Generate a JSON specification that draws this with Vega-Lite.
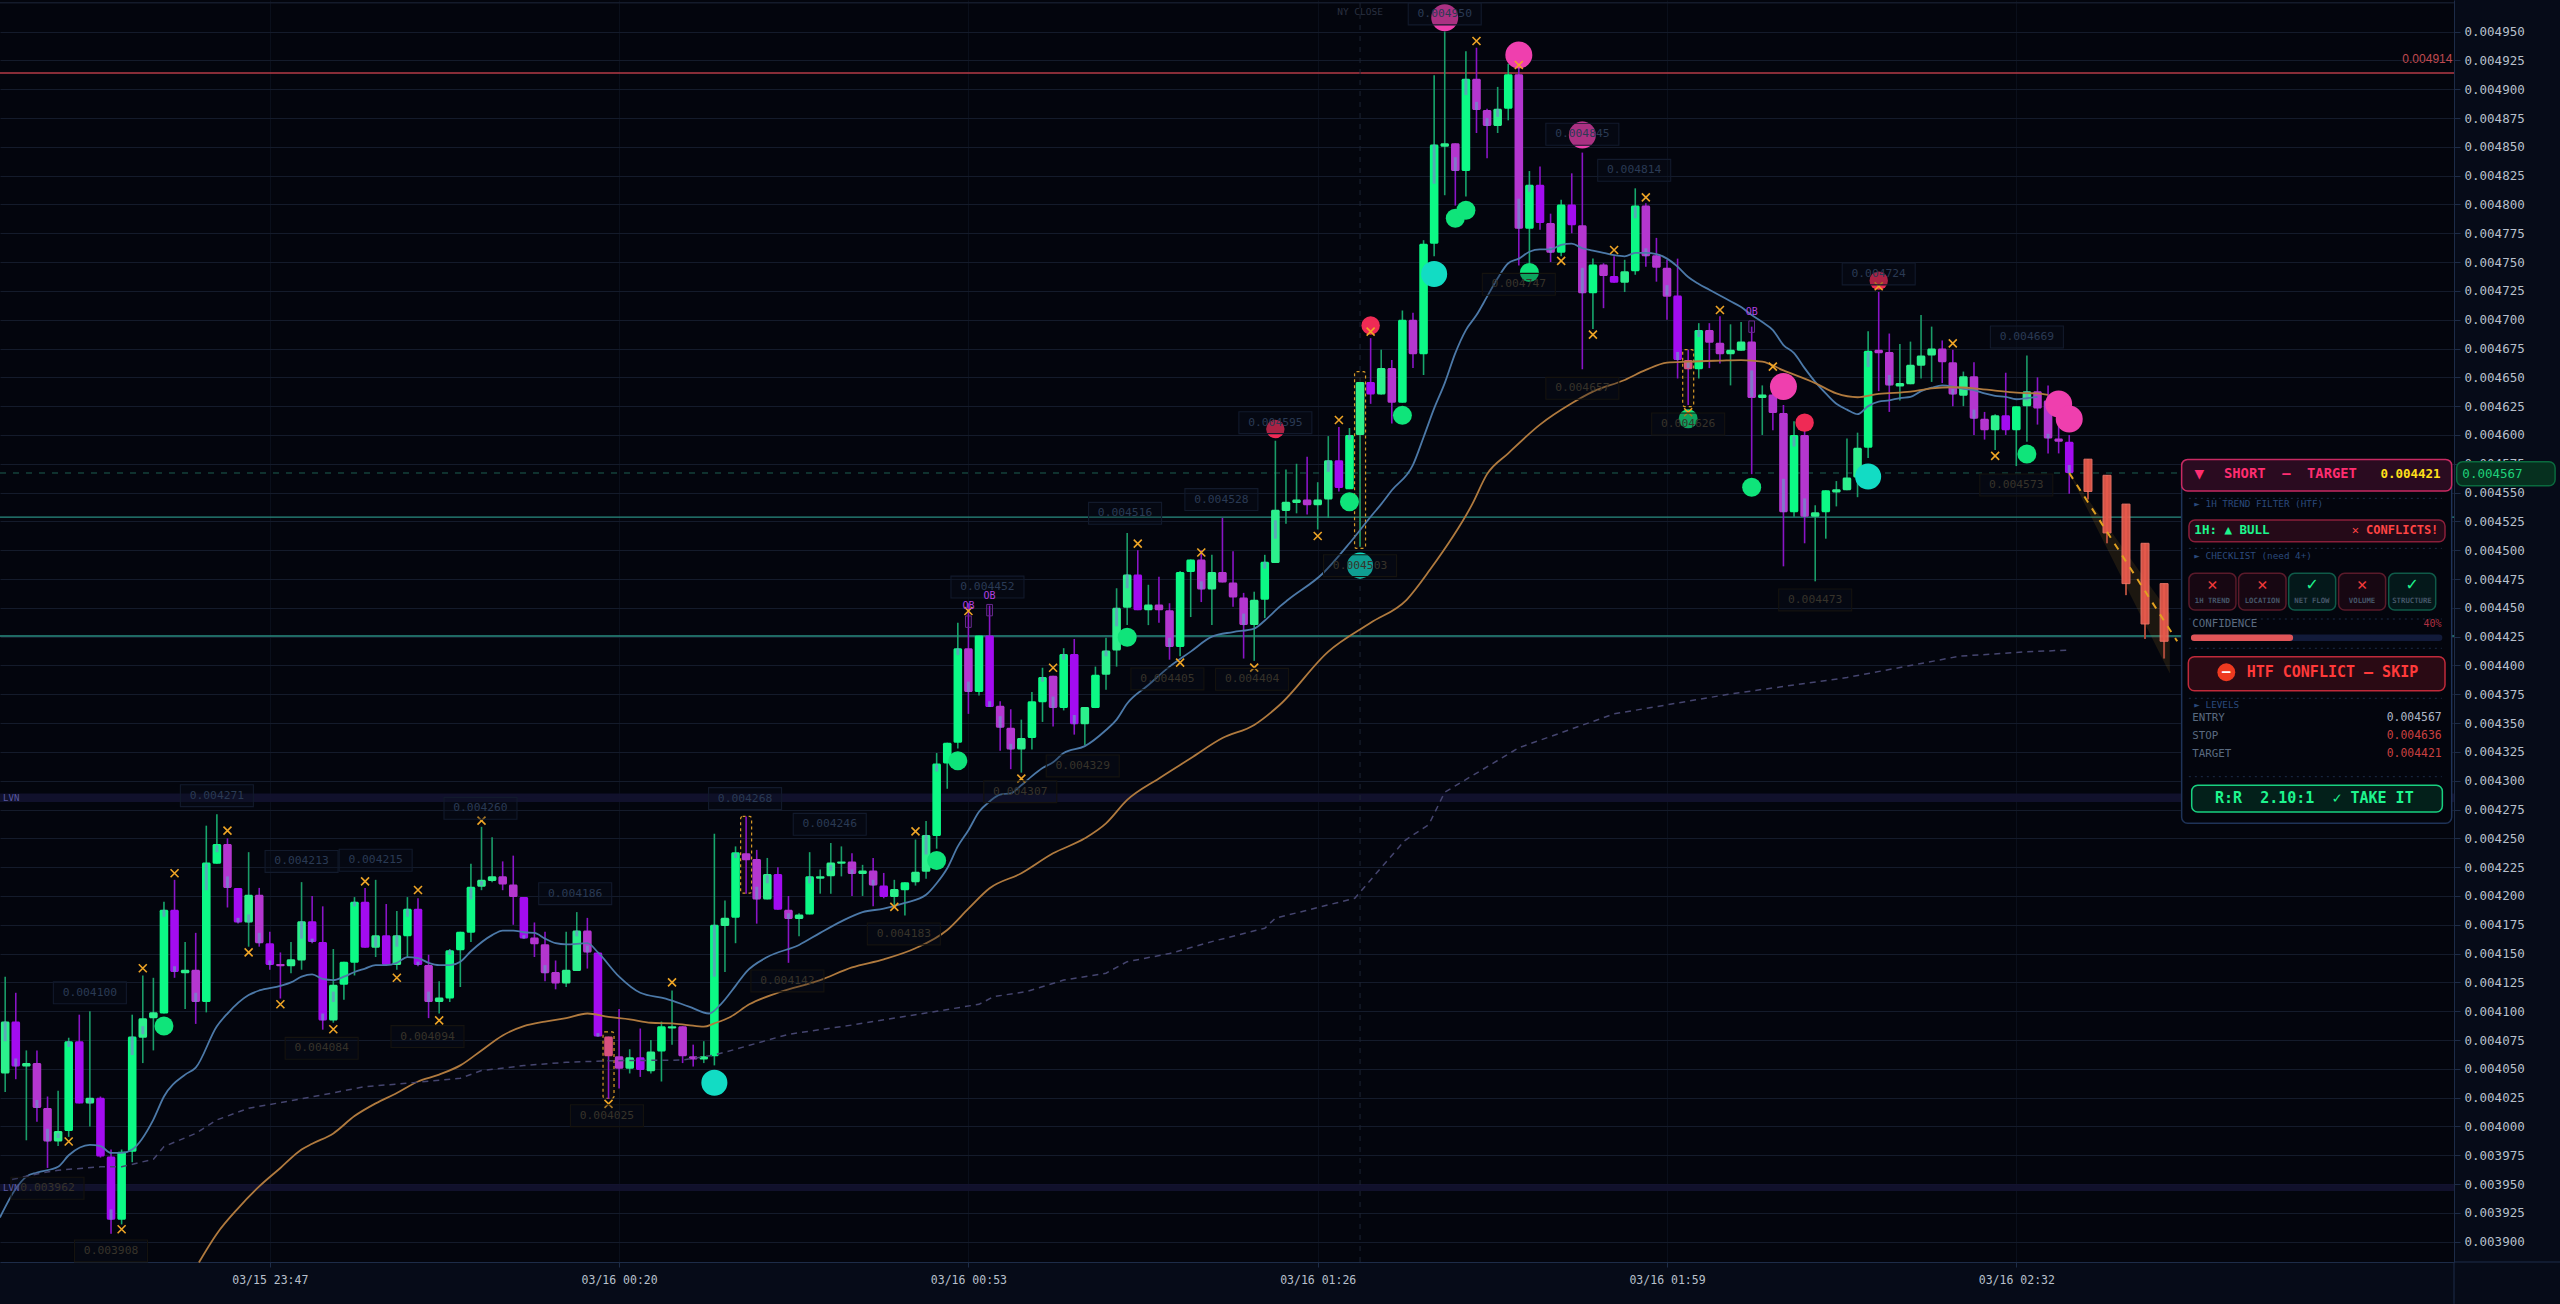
{
"$schema":"https://vega.github.io/schema/vega-lite/v6.json",
"autosize":{"type":"none"},
"width":2454,"height":1262,
"padding":{"left":0,"top":0,"right":106,"bottom":42},
"background":"#060b18",
"view":{"fill":"#03050d","stroke":null},
"config":{"font":"DejaVu Sans Mono"},
"datasets":{
"candles":[
{"b":0,"o":0.004046,"h":0.00413,"l":0.00403,"c":0.004091,"k":"L"},
{"b":1,"o":0.004091,"h":0.004116,"l":0.004041,"c":0.004052,"k":"P"},
{"b":2,"o":0.004052,"h":0.004066,"l":0.003988,"c":0.004055,"k":"L"},
{"b":3,"o":0.004055,"h":0.004066,"l":0.004004,"c":0.004016,"k":"M"},
{"b":4,"o":0.004016,"h":0.004026,"l":0.003964,"c":0.003987,"k":"M"},
{"b":5,"o":0.003987,"h":0.004031,"l":0.003983,"c":0.003996,"k":"L"},
{"b":6,"o":0.003996,"h":0.004077,"l":0.003991,"c":0.004074,"k":"G"},
{"b":7,"o":0.004074,"h":0.004097,"l":0.00402,"c":0.00402,"k":"P"},
{"b":8,"o":0.00402,"h":0.0041,"l":0.004,"c":0.004025,"k":"L"},
{"b":9,"o":0.004025,"h":0.004026,"l":0.003973,"c":0.003974,"k":"P"},
{"b":10,"o":0.003974,"h":0.00398,"l":0.003907,"c":0.003919,"k":"P"},
{"b":11,"o":0.003919,"h":0.00398,"l":0.003915,"c":0.003978,"k":"G"},
{"b":12,"o":0.003978,"h":0.004097,"l":0.003969,"c":0.004078,"k":"G"},
{"b":13,"o":0.004077,"h":0.004131,"l":0.004055,"c":0.004094,"k":"L"},
{"b":14,"o":0.004094,"h":0.004129,"l":0.004066,"c":0.004099,"k":"L"},
{"b":15,"o":0.004098,"h":0.004195,"l":0.004098,"c":0.004188,"k":"G"},
{"b":16,"o":0.004188,"h":0.004214,"l":0.004129,"c":0.004134,"k":"P"},
{"b":17,"o":0.004133,"h":0.00416,"l":0.004102,"c":0.004136,"k":"L"},
{"b":18,"o":0.004136,"h":0.004168,"l":0.004089,"c":0.004108,"k":"M"},
{"b":19,"o":0.004108,"h":0.004261,"l":0.004099,"c":0.004229,"k":"G"},
{"b":20,"o":0.004228,"h":0.004271,"l":0.004228,"c":0.004245,"k":"G"},
{"b":21,"o":0.004245,"h":0.00425,"l":0.00419,"c":0.004207,"k":"M"},
{"b":22,"o":0.004207,"h":0.004207,"l":0.004176,"c":0.004177,"k":"P"},
{"b":23,"o":0.004177,"h":0.004238,"l":0.004156,"c":0.004201,"k":"L"},
{"b":24,"o":0.004201,"h":0.004207,"l":0.004156,"c":0.004159,"k":"M"},
{"b":25,"o":0.004159,"h":0.004169,"l":0.004136,"c":0.00414,"k":"P"},
{"b":26,"o":0.004141,"h":0.004151,"l":0.004111,"c":0.004139,"k":"M"},
{"b":27,"o":0.004139,"h":0.00416,"l":0.004133,"c":0.004145,"k":"L"},
{"b":28,"o":0.004144,"h":0.004212,"l":0.004136,"c":0.004178,"k":"L"},
{"b":29,"o":0.004178,"h":0.0042,"l":0.004159,"c":0.00416,"k":"P"},
{"b":30,"o":0.00416,"h":0.004191,"l":0.004084,"c":0.004092,"k":"P"},
{"b":31,"o":0.004092,"h":0.004154,"l":0.00409,"c":0.004123,"k":"L"},
{"b":32,"o":0.004123,"h":0.004143,"l":0.00411,"c":0.004143,"k":"G"},
{"b":33,"o":0.004142,"h":0.004199,"l":0.004131,"c":0.004195,"k":"G"},
{"b":34,"o":0.004195,"h":0.004207,"l":0.004155,"c":0.004155,"k":"P"},
{"b":35,"o":0.004155,"h":0.004214,"l":0.004147,"c":0.004166,"k":"L"},
{"b":36,"o":0.004166,"h":0.004193,"l":0.00414,"c":0.00414,"k":"P"},
{"b":37,"o":0.00414,"h":0.004187,"l":0.004136,"c":0.004166,"k":"L"},
{"b":38,"o":0.004165,"h":0.004199,"l":0.004147,"c":0.004189,"k":"G"},
{"b":39,"o":0.004189,"h":0.004198,"l":0.004139,"c":0.00414,"k":"P"},
{"b":40,"o":0.00414,"h":0.004149,"l":0.004094,"c":0.004108,"k":"M"},
{"b":41,"o":0.004108,"h":0.004126,"l":0.004098,"c":0.004112,"k":"L"},
{"b":42,"o":0.004111,"h":0.004154,"l":0.004108,"c":0.004153,"k":"G"},
{"b":43,"o":0.004153,"h":0.004169,"l":0.004121,"c":0.004169,"k":"G"},
{"b":44,"o":0.004168,"h":0.004228,"l":0.00416,"c":0.004208,"k":"G"},
{"b":45,"o":0.004208,"h":0.00426,"l":0.004205,"c":0.004214,"k":"L"},
{"b":46,"o":0.004213,"h":0.004251,"l":0.004212,"c":0.004217,"k":"L"},
{"b":47,"o":0.004217,"h":0.00423,"l":0.004205,"c":0.00421,"k":"M"},
{"b":48,"o":0.00421,"h":0.004235,"l":0.004175,"c":0.004199,"k":"M"},
{"b":49,"o":0.004199,"h":0.004199,"l":0.004163,"c":0.004163,"k":"P"},
{"b":50,"o":0.004164,"h":0.004177,"l":0.004147,"c":0.004158,"k":"M"},
{"b":51,"o":0.004158,"h":0.004169,"l":0.004126,"c":0.004133,"k":"M"},
{"b":52,"o":0.004134,"h":0.004144,"l":0.004119,"c":0.004124,"k":"M"},
{"b":53,"o":0.004124,"h":0.004169,"l":0.004121,"c":0.004136,"k":"L"},
{"b":54,"o":0.004135,"h":0.004186,"l":0.004135,"c":0.00417,"k":"L"},
{"b":55,"o":0.00417,"h":0.004181,"l":0.004137,"c":0.004151,"k":"M"},
{"b":56,"o":0.004151,"h":0.004151,"l":0.004078,"c":0.004078,"k":"P"},
{"b":57,"o":0.004078,"h":0.004078,"l":0.004024,"c":0.004061,"k":"H"},
{"b":58,"o":0.004061,"h":0.004102,"l":0.004033,"c":0.00405,"k":"M"},
{"b":59,"o":0.00405,"h":0.004067,"l":0.004046,"c":0.00406,"k":"L"},
{"b":60,"o":0.00406,"h":0.004085,"l":0.004043,"c":0.004049,"k":"P"},
{"b":61,"o":0.004048,"h":0.004075,"l":0.004046,"c":0.004065,"k":"L"},
{"b":62,"o":0.004065,"h":0.004091,"l":0.004039,"c":0.004087,"k":"G"},
{"b":63,"o":0.004085,"h":0.004118,"l":0.004071,"c":0.004087,"k":"L"},
{"b":64,"o":0.004087,"h":0.004087,"l":0.004055,"c":0.004061,"k":"M"},
{"b":65,"o":0.004061,"h":0.004071,"l":0.004052,"c":0.004058,"k":"M"},
{"b":66,"o":0.004058,"h":0.004074,"l":0.004055,"c":0.004061,"k":"L"},
{"b":67,"o":0.004061,"h":0.004254,"l":0.004053,"c":0.004175,"k":"G"},
{"b":68,"o":0.004174,"h":0.004196,"l":0.004134,"c":0.004181,"k":"L"},
{"b":69,"o":0.004181,"h":0.004243,"l":0.004159,"c":0.004238,"k":"G"},
{"b":70,"o":0.004237,"h":0.004269,"l":0.004202,"c":0.004231,"k":"M"},
{"b":71,"o":0.004232,"h":0.00424,"l":0.004176,"c":0.004197,"k":"M"},
{"b":72,"o":0.004197,"h":0.004233,"l":0.004197,"c":0.004219,"k":"L"},
{"b":73,"o":0.004219,"h":0.004225,"l":0.004188,"c":0.004188,"k":"P"},
{"b":74,"o":0.004188,"h":0.0042,"l":0.004142,"c":0.00418,"k":"M"},
{"b":75,"o":0.00418,"h":0.004185,"l":0.004165,"c":0.004184,"k":"L"},
{"b":76,"o":0.004184,"h":0.004238,"l":0.004184,"c":0.004217,"k":"G"},
{"b":77,"o":0.004215,"h":0.004223,"l":0.004202,"c":0.004217,"k":"L"},
{"b":78,"o":0.004217,"h":0.004246,"l":0.004202,"c":0.004229,"k":"L"},
{"b":79,"o":0.004228,"h":0.004243,"l":0.004217,"c":0.00423,"k":"L"},
{"b":80,"o":0.00423,"h":0.004237,"l":0.0042,"c":0.004219,"k":"M"},
{"b":81,"o":0.004219,"h":0.004227,"l":0.0042,"c":0.004222,"k":"L"},
{"b":82,"o":0.004222,"h":0.004233,"l":0.004191,"c":0.004209,"k":"M"},
{"b":83,"o":0.004209,"h":0.00422,"l":0.004198,"c":0.004199,"k":"P"},
{"b":84,"o":0.004199,"h":0.004214,"l":0.004192,"c":0.004206,"k":"L"},
{"b":85,"o":0.004205,"h":0.004212,"l":0.004183,"c":0.004212,"k":"G"},
{"b":86,"o":0.004212,"h":0.004249,"l":0.004209,"c":0.004221,"k":"L"},
{"b":87,"o":0.004221,"h":0.004265,"l":0.004215,"c":0.004253,"k":"L"},
{"b":88,"o":0.004252,"h":0.004324,"l":0.004241,"c":0.004315,"k":"G"},
{"b":89,"o":0.004315,"h":0.004333,"l":0.004293,"c":0.004333,"k":"G"},
{"b":90,"o":0.004333,"h":0.004437,"l":0.004328,"c":0.004415,"k":"G"},
{"b":91,"o":0.004415,"h":0.004454,"l":0.004358,"c":0.004377,"k":"M"},
{"b":92,"o":0.004377,"h":0.004426,"l":0.004374,"c":0.004426,"k":"G"},
{"b":93,"o":0.004426,"h":0.004452,"l":0.004364,"c":0.004364,"k":"P"},
{"b":94,"o":0.004365,"h":0.004369,"l":0.004326,"c":0.004346,"k":"M"},
{"b":95,"o":0.004346,"h":0.004362,"l":0.00431,"c":0.004327,"k":"M"},
{"b":96,"o":0.004327,"h":0.004353,"l":0.004307,"c":0.004337,"k":"L"},
{"b":97,"o":0.004337,"h":0.004377,"l":0.004327,"c":0.004369,"k":"G"},
{"b":98,"o":0.004368,"h":0.004398,"l":0.004351,"c":0.00439,"k":"G"},
{"b":99,"o":0.004391,"h":0.004391,"l":0.004347,"c":0.004363,"k":"M"},
{"b":100,"o":0.004363,"h":0.004415,"l":0.004361,"c":0.00441,"k":"G"},
{"b":101,"o":0.00441,"h":0.004423,"l":0.00434,"c":0.004349,"k":"P"},
{"b":102,"o":0.004349,"h":0.004364,"l":0.004331,"c":0.004364,"k":"L"},
{"b":103,"o":0.004363,"h":0.004399,"l":0.004363,"c":0.004392,"k":"G"},
{"b":104,"o":0.004392,"h":0.004424,"l":0.004379,"c":0.004413,"k":"L"},
{"b":105,"o":0.004413,"h":0.004467,"l":0.004399,"c":0.00445,"k":"L"},
{"b":106,"o":0.00445,"h":0.004515,"l":0.004435,"c":0.004479,"k":"L"},
{"b":107,"o":0.004479,"h":0.0045,"l":0.004448,"c":0.004448,"k":"P"},
{"b":108,"o":0.004448,"h":0.00447,"l":0.004435,"c":0.004453,"k":"L"},
{"b":109,"o":0.004453,"h":0.004477,"l":0.004437,"c":0.004448,"k":"M"},
{"b":110,"o":0.004448,"h":0.004454,"l":0.004405,"c":0.004416,"k":"M"},
{"b":111,"o":0.004416,"h":0.004482,"l":0.004408,"c":0.004481,"k":"G"},
{"b":112,"o":0.004481,"h":0.004492,"l":0.004442,"c":0.004492,"k":"G"},
{"b":113,"o":0.004492,"h":0.0045,"l":0.004455,"c":0.004466,"k":"M"},
{"b":114,"o":0.004466,"h":0.004496,"l":0.004435,"c":0.004481,"k":"L"},
{"b":115,"o":0.004481,"h":0.004528,"l":0.004472,"c":0.004472,"k":"M"},
{"b":116,"o":0.004472,"h":0.004499,"l":0.004451,"c":0.004459,"k":"M"},
{"b":117,"o":0.004459,"h":0.004463,"l":0.004406,"c":0.004435,"k":"M"},
{"b":118,"o":0.004435,"h":0.004464,"l":0.004404,"c":0.004457,"k":"L"},
{"b":119,"o":0.004457,"h":0.004496,"l":0.004441,"c":0.00449,"k":"G"},
{"b":120,"o":0.004489,"h":0.004595,"l":0.004489,"c":0.004535,"k":"L"},
{"b":121,"o":0.004534,"h":0.00457,"l":0.004523,"c":0.004542,"k":"L"},
{"b":122,"o":0.004541,"h":0.004575,"l":0.004532,"c":0.004544,"k":"L"},
{"b":123,"o":0.004544,"h":0.004581,"l":0.004531,"c":0.004539,"k":"M"},
{"b":124,"o":0.004539,"h":0.004559,"l":0.004518,"c":0.004544,"k":"L"},
{"b":125,"o":0.004544,"h":0.004599,"l":0.004528,"c":0.004578,"k":"L"},
{"b":126,"o":0.004578,"h":0.004607,"l":0.004551,"c":0.004554,"k":"P"},
{"b":127,"o":0.004553,"h":0.004606,"l":0.004553,"c":0.0046,"k":"G"},
{"b":128,"o":0.0046,"h":0.004646,"l":0.004503,"c":0.004646,"k":"L"},
{"b":129,"o":0.004646,"h":0.004684,"l":0.004627,"c":0.004635,"k":"P"},
{"b":130,"o":0.004635,"h":0.004674,"l":0.004635,"c":0.004658,"k":"L"},
{"b":131,"o":0.004658,"h":0.004665,"l":0.00461,"c":0.004628,"k":"M"},
{"b":132,"o":0.004628,"h":0.004708,"l":0.004628,"c":0.0047,"k":"G"},
{"b":133,"o":0.0047,"h":0.004706,"l":0.004658,"c":0.00467,"k":"M"},
{"b":134,"o":0.00467,"h":0.004769,"l":0.004652,"c":0.004766,"k":"G"},
{"b":135,"o":0.004766,"h":0.004912,"l":0.004755,"c":0.004852,"k":"G"},
{"b":136,"o":0.00485,"h":0.00495,"l":0.004808,"c":0.004853,"k":"L"},
{"b":137,"o":0.004853,"h":0.004853,"l":0.004799,"c":0.004829,"k":"M"},
{"b":138,"o":0.004829,"h":0.004933,"l":0.004807,"c":0.004909,"k":"G"},
{"b":139,"o":0.004909,"h":0.004936,"l":0.004862,"c":0.004882,"k":"M"},
{"b":140,"o":0.004882,"h":0.004883,"l":0.00484,"c":0.004868,"k":"M"},
{"b":141,"o":0.004868,"h":0.004902,"l":0.004862,"c":0.004883,"k":"L"},
{"b":142,"o":0.004883,"h":0.004922,"l":0.004873,"c":0.004913,"k":"G"},
{"b":143,"o":0.004913,"h":0.004921,"l":0.004747,"c":0.004779,"k":"M"},
{"b":144,"o":0.004779,"h":0.004829,"l":0.004749,"c":0.004817,"k":"G"},
{"b":145,"o":0.004817,"h":0.004833,"l":0.004778,"c":0.004784,"k":"P"},
{"b":146,"o":0.004784,"h":0.004792,"l":0.00475,"c":0.004758,"k":"M"},
{"b":147,"o":0.004758,"h":0.004804,"l":0.004755,"c":0.0048,"k":"G"},
{"b":148,"o":0.0048,"h":0.004827,"l":0.004775,"c":0.004782,"k":"P"},
{"b":149,"o":0.004782,"h":0.004845,"l":0.004657,"c":0.004723,"k":"M"},
{"b":150,"o":0.004723,"h":0.004753,"l":0.004692,"c":0.004748,"k":"G"},
{"b":151,"o":0.004748,"h":0.004749,"l":0.00471,"c":0.004738,"k":"M"},
{"b":152,"o":0.004738,"h":0.004755,"l":0.004732,"c":0.004732,"k":"P"},
{"b":153,"o":0.004732,"h":0.004752,"l":0.004724,"c":0.004742,"k":"L"},
{"b":154,"o":0.004742,"h":0.004814,"l":0.004739,"c":0.004799,"k":"G"},
{"b":155,"o":0.004799,"h":0.004801,"l":0.004746,"c":0.004755,"k":"M"},
{"b":156,"o":0.004756,"h":0.004771,"l":0.004733,"c":0.004745,"k":"M"},
{"b":157,"o":0.004745,"h":0.004752,"l":0.0047,"c":0.00472,"k":"M"},
{"b":158,"o":0.004721,"h":0.004753,"l":0.004649,"c":0.004665,"k":"P"},
{"b":159,"o":0.004665,"h":0.004674,"l":0.004626,"c":0.004657,"k":"H"},
{"b":160,"o":0.004657,"h":0.004697,"l":0.004649,"c":0.004691,"k":"G"},
{"b":161,"o":0.004691,"h":0.004697,"l":0.004658,"c":0.00468,"k":"M"},
{"b":162,"o":0.00468,"h":0.004703,"l":0.004662,"c":0.00467,"k":"M"},
{"b":163,"o":0.00467,"h":0.004696,"l":0.004643,"c":0.004674,"k":"L"},
{"b":164,"o":0.004673,"h":0.004698,"l":0.004673,"c":0.004681,"k":"L"},
{"b":165,"o":0.004681,"h":0.004694,"l":0.004566,"c":0.004632,"k":"M"},
{"b":166,"o":0.004632,"h":0.004643,"l":0.0046,"c":0.004635,"k":"L"},
{"b":167,"o":0.004635,"h":0.004648,"l":0.004604,"c":0.004619,"k":"M"},
{"b":168,"o":0.004619,"h":0.004626,"l":0.004486,"c":0.004533,"k":"M"},
{"b":169,"o":0.004533,"h":0.004612,"l":0.004529,"c":0.0046,"k":"G"},
{"b":170,"o":0.0046,"h":0.004604,"l":0.004506,"c":0.004529,"k":"M"},
{"b":171,"o":0.004529,"h":0.004539,"l":0.004473,"c":0.004533,"k":"L"},
{"b":172,"o":0.004533,"h":0.004552,"l":0.00451,"c":0.004552,"k":"G"},
{"b":173,"o":0.00455,"h":0.00456,"l":0.004538,"c":0.004553,"k":"L"},
{"b":174,"o":0.004552,"h":0.004597,"l":0.004552,"c":0.004563,"k":"L"},
{"b":175,"o":0.004563,"h":0.004602,"l":0.004546,"c":0.004589,"k":"L"},
{"b":176,"o":0.004589,"h":0.00469,"l":0.00458,"c":0.004673,"k":"G"},
{"b":177,"o":0.004674,"h":0.004724,"l":0.004638,"c":0.004671,"k":"M"},
{"b":178,"o":0.004672,"h":0.004688,"l":0.00462,"c":0.004643,"k":"M"},
{"b":179,"o":0.004642,"h":0.004679,"l":0.00463,"c":0.004645,"k":"L"},
{"b":180,"o":0.004644,"h":0.004681,"l":0.004644,"c":0.004661,"k":"L"},
{"b":181,"o":0.00466,"h":0.004704,"l":0.004649,"c":0.004669,"k":"L"},
{"b":182,"o":0.004669,"h":0.004694,"l":0.004646,"c":0.004675,"k":"L"},
{"b":183,"o":0.004675,"h":0.004682,"l":0.004645,"c":0.004663,"k":"M"},
{"b":184,"o":0.004663,"h":0.004674,"l":0.004625,"c":0.004635,"k":"M"},
{"b":185,"o":0.004634,"h":0.004655,"l":0.004625,"c":0.004651,"k":"L"},
{"b":186,"o":0.004651,"h":0.004663,"l":0.0046,"c":0.004614,"k":"M"},
{"b":187,"o":0.004614,"h":0.00462,"l":0.004596,"c":0.004604,"k":"M"},
{"b":188,"o":0.004604,"h":0.004618,"l":0.004587,"c":0.004617,"k":"L"},
{"b":189,"o":0.004617,"h":0.004654,"l":0.0046,"c":0.004604,"k":"P"},
{"b":190,"o":0.004604,"h":0.004625,"l":0.004573,"c":0.004625,"k":"G"},
{"b":191,"o":0.004625,"h":0.004669,"l":0.004594,"c":0.004638,"k":"L"},
{"b":192,"o":0.004638,"h":0.00465,"l":0.004609,"c":0.004623,"k":"M"},
{"b":193,"o":0.00463,"h":0.004643,"l":0.004584,"c":0.004597,"k":"M"},
{"b":194,"o":0.004597,"h":0.00461,"l":0.004584,"c":0.004594,"k":"M"},
{"b":195,"o":0.004594,"h":0.0046,"l":0.004549,"c":0.004567,"k":"P"}
],
"flow":[
{"b":0,"a":0.004091,"z":0.004074},{"b":1,"a":0.004059,"z":0.004052},{"b":3,"a":0.004023,"z":0.004016},{"b":4,"a":0.003998,"z":0.003987},{"b":5,"a":0.003994,"z":0.00399},{"b":6,"a":0.004074,"z":0.004069},{"b":8,"a":0.004024,"z":0.00402},{"b":10,"a":0.003928,"z":0.003919},{"b":12,"a":0.004078,"z":0.004062},{"b":13,"a":0.004087,"z":0.00408},{"b":15,"a":0.004188,"z":0.004182},{"b":16,"a":0.004139,"z":0.004134},{"b":18,"a":0.004116,"z":0.004108},{"b":19,"a":0.004228,"z":0.004205},{"b":20,"a":0.004244,"z":0.004238},{"b":21,"a":0.004217,"z":0.004207},{"b":22,"a":0.004181,"z":0.004177},{"b":23,"a":0.004184,"z":0.004177},{"b":24,"a":0.004168,"z":0.004159},{"b":25,"a":0.004144,"z":0.00414},{"b":28,"a":0.004178,"z":0.004163},{"b":29,"a":0.004163,"z":0.00416},{"b":30,"a":0.004098,"z":0.004092},{"b":31,"a":0.004117,"z":0.004108},{"b":33,"a":0.004195,"z":0.004191},{"b":35,"a":0.004165,"z":0.004156},{"b":37,"a":0.004166,"z":0.004156},{"b":38,"a":0.004189,"z":0.004182},{"b":39,"a":0.004143,"z":0.00414},{"b":40,"a":0.004117,"z":0.004108},{"b":42,"a":0.004153,"z":0.004149},{"b":44,"a":0.004207,"z":0.004197},{"b":45,"a":0.004213,"z":0.004209},{"b":49,"a":0.004166,"z":0.004163},{"b":51,"a":0.00414,"z":0.004133},{"b":54,"a":0.00417,"z":0.004165},{"b":55,"a":0.004157,"z":0.004151},{"b":56,"a":0.004081,"z":0.004078},
{"b":67,"a":0.004175,"z":0.00413},{"b":69,"a":0.004237,"z":0.004233},{"b":71,"a":0.004208,"z":0.004197},{"b":72,"a":0.004218,"z":0.004211},{"b":74,"a":0.004185,"z":0.00418},{"b":76,"a":0.004217,"z":0.004211},{"b":78,"a":0.004227,"z":0.004222},{"b":80,"a":0.004223,"z":0.004219},{"b":82,"a":0.004214,"z":0.004209},{"b":87,"a":0.004253,"z":0.004236},{"b":88,"a":0.004314,"z":0.004308},{"b":90,"a":0.004415,"z":0.004409},{"b":91,"a":0.004386,"z":0.004377},{"b":93,"a":0.004369,"z":0.004364},{"b":94,"a":0.004356,"z":0.004346},{"b":95,"a":0.004332,"z":0.004327},{"b":98,"a":0.00439,"z":0.004386},{"b":99,"a":0.004373,"z":0.004363},{"b":100,"a":0.00441,"z":0.004405},{"b":101,"a":0.004357,"z":0.004349},{"b":104,"a":0.004413,"z":0.004408},{"b":105,"a":0.00445,"z":0.004434},{"b":106,"a":0.004479,"z":0.004467},{"b":110,"a":0.004424,"z":0.004416},{"b":113,"a":0.004473,"z":0.004466},{"b":117,"a":0.004445,"z":0.004435},{"b":119,"a":0.00449,"z":0.004484},{"b":120,"a":0.004526,"z":0.00451},{"b":125,"a":0.004578,"z":0.004568},{"b":127,"a":0.0046,"z":0.004596},
{"b":135,"a":0.004852,"z":0.004818},{"b":137,"a":0.004841,"z":0.004829},{"b":138,"a":0.004909,"z":0.004895},{"b":139,"a":0.004889,"z":0.004882},{"b":140,"a":0.004875,"z":0.004868},{"b":141,"a":0.004883,"z":0.004876},{"b":143,"a":0.004805,"z":0.004779},{"b":144,"a":0.004817,"z":0.004811},{"b":146,"a":0.004763,"z":0.004758},{"b":149,"a":0.004745,"z":0.004723},{"b":154,"a":0.004798,"z":0.004788},{"b":155,"a":0.004762,"z":0.004755},{"b":157,"a":0.00473,"z":0.004721},{"b":158,"a":0.004672,"z":0.004665},{"b":159,"a":0.004664,"z":0.004658},{"b":160,"a":0.004691,"z":0.004685},{"b":165,"a":0.004656,"z":0.004633},{"b":168,"a":0.004562,"z":0.004533},{"b":169,"a":0.004599,"z":0.00459},{"b":170,"a":0.004545,"z":0.004529},{"b":176,"a":0.004672,"z":0.004659},{"b":178,"a":0.004652,"z":0.004643},{"b":184,"a":0.00464,"z":0.004635},{"b":186,"a":0.004622,"z":0.004614},{"b":191,"a":0.004638,"z":0.00463},{"b":193,"a":0.004601,"z":0.004597},{"b":195,"a":0.004574,"z":0.004567}
],
"ghost":[
{"b":196.77,"o":0.004579,"c":0.004551,"h":0.004579,"l":0.004544},
{"b":198.57,"o":0.004565,"c":0.004515,"h":0.004565,"l":0.004506},
{"b":200.36,"o":0.00454,"c":0.004471,"h":0.00454,"l":0.004461},
{"b":202.16,"o":0.004506,"c":0.004436,"h":0.004506,"l":0.004423},
{"b":203.96,"o":0.004471,"c":0.004421,"h":0.004471,"l":0.004406}
],
"pivots":[
{"b":8,"p":0.004116,"t":"0.004100","k":"hi"},{"b":28,"p":0.00423,"t":"0.004213","k":"hi"},{"b":35,"p":0.004231,"t":"0.004215","k":"hi"},{"b":44.9,"p":0.004276,"t":"0.004260","k":"hi"},{"b":53.85,"p":0.004202,"t":"0.004186","k":"hi"},{"b":20,"p":0.004287,"t":"0.004271","k":"hi"},{"b":4,"p":0.0039464,"t":"0.003962","k":"lo"},{"b":69.9,"p":0.0042845,"t":"0.004268","k":"hi"},{"b":77.9,"p":0.0042622,"t":"0.004246","k":"hi"},{"b":92.8,"p":0.004468,"t":"0.004452","k":"hi"},{"b":105.8,"p":0.004532,"t":"0.004516","k":"hi"},{"b":114.9,"p":0.0045439,"t":"0.004528","k":"hi"},{"b":120,"p":0.0046107,"t":"0.004595","k":"hi"},{"b":136,"p":0.0049653,"t":"0.004950","k":"hi"},{"b":149,"p":0.0048609,"t":"0.004845","k":"hi"},{"b":153.9,"p":0.0048296,"t":"0.004814","k":"hi"},{"b":177,"p":0.0047397,"t":"0.004724","k":"hi"},{"b":191,"p":0.004685,"t":"0.004669","k":"hi"},
{"b":10,"p":0.003892,"t":"0.003908","k":"lo"},{"b":29.9,"p":0.0040678,"t":"0.004084","k":"lo"},{"b":39.9,"p":0.004078,"t":"0.004094","k":"lo"},{"b":56.85,"p":0.0040094,"t":"0.004025","k":"lo"},{"b":73.9,"p":0.0041263,"t":"0.004142","k":"lo"},{"b":84.9,"p":0.0041671,"t":"0.004183","k":"lo"},{"b":95.9,"p":0.0042905,"t":"0.004307","k":"lo"},{"b":101.8,"p":0.0043128,"t":"0.004329","k":"lo"},{"b":109.8,"p":0.0043883,"t":"0.004405","k":"lo"},{"b":117.8,"p":0.004388,"t":"0.004404","k":"lo"},{"b":128,"p":0.0044866,"t":"0.004503","k":"lo"},{"b":143,"p":0.0047307,"t":"0.004747","k":"lo"},{"b":149,"p":0.0046405,"t":"0.004657","k":"lo"},{"b":159,"p":0.0046095,"t":"0.004626","k":"lo"},{"b":190,"p":0.0045566,"t":"0.004573","k":"lo"},{"b":171,"p":0.0044569,"t":"0.004473","k":"lo"}
]
},
"encoding":{
"x":{"field":"b","type":"quantitative","scale":{"domain":[-0.49,231.35],"nice":false,"zero":false,"padding":0},"title":null,
"axis":{"values":[25,58,91,124,157,190],"labelExpr":"{'25':'03/15 23:47','58':'03/16 00:20','91':'03/16 00:53','124':'03/16 01:26','157':'03/16 01:59','190':'03/16 02:32'}[datum.value]","labelColor":"#b8c0cc","labelFontSize":11.5,"labelFont":"DejaVu Sans Mono","labelPadding":7,"tickSize":5,"tickColor":"#1d2c48","domainColor":"#1d2c48","grid":true,"gridColor":"#0a0f1b","gridWidth":1,"labelOverlap":false}}
},
"layer":[
{"data":{"values":[{"b":-0.49,"b2":231.35,"p":0.003882}]},
 "mark":{"type":"rule","opacity":0},
 "encoding":{"x2":{"field":"b2"},
 "y":{"field":"p","type":"quantitative","title":null,"scale":{"domain":[0.0038824,0.0049774],"nice":false,"zero":false},
 "axis":{"orient":"right","format":".6f","values":[0.0039,0.003925,0.00395,0.003975,0.004,0.004025,0.00405,0.004075,0.0041,0.004125,0.00415,0.004175,0.0042,0.004225,0.00425,0.004275,0.0043,0.004325,0.00435,0.004375,0.0044,0.004425,0.00445,0.004475,0.0045,0.004525,0.00455,0.004575,0.0046,0.004625,0.00465,0.004675,0.0047,0.004725,0.00475,0.004775,0.0048,0.004825,0.00485,0.004875,0.0049,0.004925,0.00495],"labelColor":"#b8c0cc","labelFontSize":12.5,"labelFont":"DejaVu Sans Mono","labelPadding":4,"tickSize":6,"tickColor":"#1d2c48","domainColor":"#1d2c48","grid":true,"gridColor":"#141b2b","gridWidth":1.2,"labelOverlap":false,"labelFlush":false}}}},
{"data":{"values":[{"b":-0.49,"b2":231.35,"a":0.004289,"z":0.0042815},{"b":-0.49,"b2":231.35,"a":0.00395,"z":0.003944}]},
 "mark":{"type":"rect","fill":"#131330","opacity":0.9},
 "encoding":{"x2":{"field":"b2"},"y":{"field":"a","type":"quantitative","axis":null},"y2":{"field":"z"}}},
{"data":{"values":[{"b":-0.49,"b2":231.35,"p":0.0042853},{"b":-0.49,"b2":231.35,"p":0.003947},{"b":-0.49,"b2":231.35,"p":0.004567,"k":"e"}]},
 "mark":{"type":"rule","strokeDash":[6,7],"strokeWidth":1},
 "encoding":{"x2":{"field":"b2"},"y":{"field":"p","type":"quantitative","axis":null},
 "color":{"field":"k","type":"nominal","legend":null,"scale":{"domain":["e"],"range":["#1d5f50"],"unknown":"#33335f"}}}},
{"data":{"values":[{"b":-0.49,"b2":231.35,"p":0.004914,"k":"r"},{"b":-0.49,"b2":231.35,"p":0.0045287,"k":"t"},{"b":-0.49,"b2":231.35,"p":0.0044256,"k":"t"},{"b":-0.49,"b2":231.35,"p":0.004975,"k":"g"}]},
 "mark":{"type":"rule","strokeWidth":1.4},
 "encoding":{"x2":{"field":"b2"},"y":{"field":"p","type":"quantitative","axis":null},
 "color":{"field":"k","type":"nominal","legend":null,"scale":{"domain":["r","t","g"],"range":["#b53a46","#2a8c80","#141b2b"]}}}},
{"data":{"values":[{"b":128,"a":0.0038824,"z":0.0049774}]},
 "mark":{"type":"rule","strokeDash":[5,6],"stroke":"#1c2434","strokeWidth":1},
 "encoding":{"y":{"field":"a","type":"quantitative","axis":null},"y2":{"field":"z"}}},
{"data":{"values":[{"b":231.35,"a":0.0038824,"z":0.003846}]},
 "mark":{"type":"rule","stroke":"#1d2c48","strokeWidth":1},
 "encoding":{"y":{"field":"a","type":"quantitative","axis":null},"y2":{"field":"z"}}},
{"data":{"values":[{"b":231.35,"b2":241.4,"p":0.0038824}]},
 "mark":{"type":"rule","stroke":"#1d2c48","strokeWidth":1},
 "encoding":{"x2":{"field":"b2"},"y":{"field":"p","type":"quantitative","axis":null}}},
{"data":{"values":[{"b":57,"a":0.004082,"z":0.0040245},{"b":70,"a":0.004269,"z":0.0042024},{"b":128,"a":0.004655,"z":0.0045016},{"b":159,"a":0.004674,"z":0.0046246}]},
 "mark":{"type":"bar","width":11,"fill":"#f0a020","fillOpacity":0.04,"stroke":"#d89a28","strokeWidth":1.2,"strokeDash":[3,3],"cornerRadius":2},
 "encoding":{"y":{"field":"a","type":"quantitative","axis":null},"y2":{"field":"z"}}},
{"data":{"name":"candles"},
 "mark":{"type":"rule","strokeWidth":1.6},
 "encoding":{"y":{"field":"h","type":"quantitative","axis":null},"y2":{"field":"l"},
 "color":{"field":"k","type":"nominal","legend":null,"scale":{"domain":["G","L","P","M","H"],"range":["#17a76c","#1a9c68","#8a14c6","#8a14c6","#8a14c6"]}}}},
{"data":{"name":"candles"},
 "mark":{"type":"bar","width":8.6,"cornerRadius":1.5},
 "encoding":{"y":{"field":"o","type":"quantitative","axis":null},"y2":{"field":"c"},
 "color":{"field":"k","type":"nominal","legend":null,"scale":{"domain":["G","L","P","M","H"],"range":["#0cf985","#2cf08c","#a30cf0","#b436cf","#d8507e"]}}}},
{"data":{"name":"flow"},
 "mark":{"type":"bar","width":3,"color":"#6e8fc8","opacity":0.72},
 "encoding":{"y":{"field":"a","type":"quantitative","axis":null},"y2":{"field":"z"}}},
{"data":{"values":[{"b":-0.5,"p":0.003921},{"b":1,"p":0.003946},{"b":2,"p":0.0039565},{"b":3,"p":0.00396},{"b":5,"p":0.003965},{"b":6,"p":0.003975},{"b":8,"p":0.003984},{"b":9,"p":0.003983},{"b":10,"p":0.003977},{"b":11,"p":0.003977},{"b":12,"p":0.00398},{"b":14,"p":0.004006},{"b":15,"p":0.004026},{"b":17,"p":0.004045},{"b":18,"p":0.004051},{"b":20,"p":0.004087},{"b":21,"p":0.004098},{"b":23,"p":0.004114},{"b":24,"p":0.004118},{"b":26,"p":0.004122},{"b":27,"p":0.004125},{"b":28,"p":0.00413},{"b":29,"p":0.004132},{"b":30,"p":0.004128},{"b":31,"p":0.004127},{"b":32,"p":0.00413},{"b":33,"p":0.004134},{"b":34,"p":0.004137},{"b":35,"p":0.00414},{"b":36,"p":0.00414},{"b":37,"p":0.004142},{"b":38,"p":0.004147},{"b":39,"p":0.004146},{"b":40,"p":0.004142},{"b":41,"p":0.00414},{"b":42,"p":0.00414},{"b":43,"p":0.004143},{"b":44,"p":0.004152},{"b":46,"p":0.004166},{"b":47,"p":0.00417},{"b":48,"p":0.00417},{"b":49,"p":0.0041685},{"b":50,"p":0.004168},{"b":51,"p":0.004163},{"b":52,"p":0.004159},{"b":53,"p":0.004158},{"b":55,"p":0.004159},{"b":56,"p":0.004151},{"b":58,"p":0.00413},{"b":60,"p":0.004116},{"b":62.4,"p":0.004111},{"b":64.6,"p":0.004104},{"b":66.5,"p":0.004098},{"b":67.6,"p":0.004106},{"b":69,"p":0.004122},{"b":70,"p":0.004134},{"b":72,"p":0.004147},{"b":75,"p":0.0041575},{"b":77,"p":0.004168},{"b":79,"p":0.004178},{"b":81,"p":0.004186},{"b":83,"p":0.004189},{"b":85,"p":0.004194},{"b":87,"p":0.004201},{"b":88,"p":0.004211},{"b":89,"p":0.004224},{"b":90,"p":0.004243},{"b":91,"p":0.004257},{"b":92,"p":0.004273},{"b":93,"p":0.004282},{"b":94,"p":0.004288},{"b":95,"p":0.004289},{"b":96,"p":0.004296},{"b":97,"p":0.004304},{"b":98,"p":0.004311},{"b":99,"p":0.004316},{"b":100,"p":0.004324},{"b":102,"p":0.00433},{"b":104,"p":0.004344},{"b":105,"p":0.004353},{"b":106,"p":0.004367},{"b":108,"p":0.004383},{"b":110,"p":0.004399},{"b":112,"p":0.004412},{"b":114,"p":0.004425},{"b":116,"p":0.004429},{"b":118,"p":0.004432},{"b":119,"p":0.004439},{"b":120.4,"p":0.004451},{"b":121.2,"p":0.004457},{"b":124.5,"p":0.00448},{"b":127,"p":0.004506},{"b":129,"p":0.004529},{"b":130,"p":0.00454},{"b":131,"p":0.004552},{"b":133,"p":0.004574},{"b":134,"p":0.004598},{"b":135,"p":0.004623},{"b":136,"p":0.004645},{"b":137,"p":0.004671},{"b":138,"p":0.004691},{"b":139,"p":0.004704},{"b":140,"p":0.00472},{"b":141,"p":0.004736},{"b":142,"p":0.004749},{"b":143,"p":0.004753},{"b":144,"p":0.004759},{"b":145,"p":0.004761},{"b":146,"p":0.004761},{"b":147,"p":0.004765},{"b":148,"p":0.004766},{"b":149,"p":0.004762},{"b":150,"p":0.00476},{"b":151,"p":0.004758},{"b":152,"p":0.004756},{"b":153,"p":0.004755},{"b":154,"p":0.004758},{"b":155,"p":0.004758},{"b":156,"p":0.004757},{"b":157,"p":0.004753},{"b":158,"p":0.004746},{"b":159,"p":0.004737},{"b":160,"p":0.004731},{"b":161,"p":0.004726},{"b":162,"p":0.004721},{"b":163,"p":0.004716},{"b":164,"p":0.004711},{"b":165,"p":0.004704},{"b":166,"p":0.004698},{"b":167,"p":0.004691},{"b":168,"p":0.004678},{"b":169,"p":0.004671},{"b":170,"p":0.004658},{"b":171,"p":0.004646},{"b":172,"p":0.004636},{"b":173,"p":0.004627},{"b":174,"p":0.004622},{"b":175,"p":0.004618},{"b":176,"p":0.004625},{"b":177,"p":0.004629},{"b":178,"p":0.00463},{"b":179,"p":0.004632},{"b":180,"p":0.004633},{"b":181,"p":0.004638},{"b":182,"p":0.004641},{"b":183,"p":0.004643},{"b":184,"p":0.004642},{"b":185,"p":0.00464},{"b":186,"p":0.004639},{"b":187,"p":0.004636},{"b":188,"p":0.004634},{"b":189,"p":0.004633},{"b":190,"p":0.004631},{"b":191,"p":0.004632},{"b":192,"p":0.004633}]},
 "mark":{"type":"line","stroke":"#4c79a8","strokeWidth":1.8,"interpolate":"monotone"},
 "encoding":{"y":{"field":"p","type":"quantitative","axis":null}}},
{"data":{"values":[{"b":18.3,"p":0.003882},{"b":20,"p":0.003907},{"b":22,"p":0.003929},{"b":24,"p":0.003948},{"b":26,"p":0.003964},{"b":28,"p":0.00398},{"b":29,"p":0.003985},{"b":31,"p":0.003994},{"b":33,"p":0.004009},{"b":35,"p":0.00402},{"b":37,"p":0.004029},{"b":39,"p":0.004039},{"b":41,"p":0.004045},{"b":43,"p":0.004053},{"b":45,"p":0.004066},{"b":47,"p":0.004079},{"b":49,"p":0.004087},{"b":51,"p":0.004091},{"b":53,"p":0.004094},{"b":55,"p":0.004098},{"b":57,"p":0.004095},{"b":59,"p":0.004093},{"b":61,"p":0.00409},{"b":63,"p":0.0040895},{"b":64.5,"p":0.004088},{"b":66,"p":0.0040866},{"b":67,"p":0.0040895},{"b":68.5,"p":0.004095},{"b":70.3,"p":0.004106},{"b":73,"p":0.004116},{"b":77,"p":0.004127},{"b":80,"p":0.004138},{"b":83,"p":0.004145},{"b":86,"p":0.0041546},{"b":89,"p":0.0041705},{"b":91,"p":0.004189},{"b":93,"p":0.0042067},{"b":96,"p":0.0042197},{"b":99,"p":0.004237},{"b":102,"p":0.00425},{"b":104,"p":0.004263},{"b":106,"p":0.0042833},{"b":109,"p":0.004302},{"b":112,"p":0.0043195},{"b":115,"p":0.004337},{"b":118,"p":0.0043484},{"b":120.4,"p":0.0043657},{"b":125,"p":0.004412},{"b":129,"p":0.004437},{"b":132.4,"p":0.004457},{"b":134.6,"p":0.004483},{"b":138.6,"p":0.00454},{"b":140,"p":0.004566},{"b":142,"p":0.004584},{"b":145,"p":0.004609},{"b":148,"p":0.0046275},{"b":150,"p":0.0046376},{"b":153,"p":0.0046477},{"b":155,"p":0.0046564},{"b":157,"p":0.0046627},{"b":159,"p":0.0046636},{"b":162,"p":0.0046645},{"b":164,"p":0.004665},{"b":166,"p":0.0046636},{"b":168,"p":0.004656},{"b":171,"p":0.004645},{"b":173,"p":0.004636},{"b":175,"p":0.0046327},{"b":177,"p":0.0046356},{"b":180,"p":0.0046376},{"b":182,"p":0.0046405},{"b":184,"p":0.0046414},{"b":186,"p":0.0046405},{"b":188,"p":0.0046385},{"b":190,"p":0.0046367},{"b":192,"p":0.004636},{"b":193,"p":0.0046347}]},
 "mark":{"type":"line","stroke":"#b07a3e","strokeWidth":1.8,"interpolate":"monotone"},
 "encoding":{"y":{"field":"p","type":"quantitative","axis":null}}},
{"data":{"values":[{"b":0.65,"p":0.003954},{"b":3.3,"p":0.0039594},{"b":5,"p":0.003962},{"b":9,"p":0.003965},{"b":11,"p":0.003965},{"b":14,"p":0.0039715},{"b":15,"p":0.0039825},{"b":18,"p":0.003994},{"b":20,"p":0.0040057},{"b":23,"p":0.0040158},{"b":26,"p":0.0040207},{"b":30,"p":0.0040274},{"b":34,"p":0.0040346},{"b":38,"p":0.0040375},{"b":43,"p":0.0040418},{"b":45,"p":0.0040485},{"b":49,"p":0.0040528},{"b":53,"p":0.0040557},{"b":57,"p":0.004057},{"b":64,"p":0.0040576},{"b":67,"p":0.004062},{"b":69,"p":0.004067},{"b":74,"p":0.00408},{"b":80,"p":0.004088},{"b":86,"p":0.004097},{"b":92,"p":0.004106},{"b":93.4,"p":0.0041127},{"b":96.5,"p":0.004117},{"b":100,"p":0.004127},{"b":104,"p":0.004133},{"b":106,"p":0.004143},{"b":110,"p":0.00415},{"b":114,"p":0.0041604},{"b":119,"p":0.004172},{"b":120,"p":0.0041807},{"b":127.5,"p":0.004198},{"b":132.2,"p":0.0042479},{"b":134.5,"p":0.004262},{"b":136,"p":0.00429},{"b":143,"p":0.0043286},{"b":152,"p":0.004358},{"b":163,"p":0.0043753},{"b":174,"p":0.0043895},{"b":184.6,"p":0.004408},{"b":190.7,"p":0.0044117},{"b":195,"p":0.0044134}]},
 "mark":{"type":"line","stroke":"#45456f","strokeWidth":1.5,"strokeDash":[6,5]},
 "encoding":{"y":{"field":"p","type":"quantitative","axis":null}}},
{"data":{"values":[{"b":195,"a":0.004567,"z":0.004567},{"b":204.5,"a":0.004445,"z":0.004393}]},
 "mark":{"type":"area","color":"#b88a20","opacity":0.14},
 "encoding":{"y":{"field":"a","type":"quantitative","axis":null},"y2":{"field":"z"}}},
{"data":{"name":"ghost"},
 "mark":{"type":"rule","strokeWidth":2,"stroke":"#a84a3a"},
 "encoding":{"y":{"field":"h","type":"quantitative","axis":null},"y2":{"field":"l"}}},
{"data":{"name":"ghost"},
 "mark":{"type":"bar","width":8,"fill":"#ea5a4c","stroke":"#f4786a","strokeWidth":1,"opacity":0.92},
 "encoding":{"y":{"field":"o","type":"quantitative","axis":null},"y2":{"field":"c"}}},
{"data":{"values":[{"b":195,"p":0.004567},{"b":205.2,"p":0.004421}]},
 "mark":{"type":"line","stroke":"#e0a020","strokeWidth":2,"strokeDash":[7,7]},
 "encoding":{"y":{"field":"p","type":"quantitative","axis":null}}},
{"data":{"values":[
 {"b":15,"p":0.0040872,"k":"g"},{"b":90,"p":0.0043174,"k":"g"},{"b":88,"p":0.0042307,"k":"g"},{"b":106,"p":0.0044244,"k":"g"},{"b":127,"p":0.004542,"k":"g"},{"b":132,"p":0.004617,"k":"g"},{"b":137,"p":0.004788,"k":"g"},{"b":138,"p":0.004795,"k":"g"},{"b":144,"p":0.004741,"k":"g"},{"b":159,"p":0.004614,"k":"g"},{"b":165,"p":0.0045546,"k":"g"},{"b":191,"p":0.0045835,"k":"g"},
 {"b":67,"p":0.004038,"k":"c"},{"b":128,"p":0.0044866,"k":"c"},{"b":135,"p":0.0047397,"k":"c"},{"b":176,"p":0.0045639,"k":"c"},
 {"b":136,"p":0.004962,"k":"p"},{"b":143,"p":0.0049297,"k":"p"},{"b":149,"p":0.0048603,"k":"p"},{"b":168,"p":0.004642,"k":"p"},{"b":194,"p":0.0046269,"k":"p"},{"b":195,"p":0.0046139,"k":"p"},
 {"b":120,"p":0.0046052,"k":"r"},{"b":129,"p":0.0046949,"k":"r"},{"b":170,"p":0.0046107,"k":"r"},{"b":177,"p":0.0047339,"k":"r"}]},
 "mark":{"type":"circle","opacity":1},
 "encoding":{"y":{"field":"p","type":"quantitative","axis":null},
 "color":{"field":"k","type":"nominal","legend":null,"scale":{"domain":["g","c","p","r"],"range":["#0fe47a","#12dcc4","#ef3fae","#ef2a55"]}},
 "size":{"field":"k","type":"ordinal","legend":null,"scale":{"type":"ordinal","domain":["g","c","p","r"],"range":[361,680,729,340]}}}},
{"data":{"values":[{"b":13,"p":0.0041373},{"b":16,"p":0.0042197},{"b":21,"p":0.0042567},{"b":23,"p":0.004151},{"b":26,"p":0.004106},{"b":6,"p":0.003987},{"b":11,"p":0.0039108},{"b":31,"p":0.0040843},{"b":34,"p":0.0042127},{"b":37,"p":0.004129},{"b":39,"p":0.0042052},{"b":41,"p":0.004092},{"b":45,"p":0.0042654},{"b":57,"p":0.0040196},{"b":63,"p":0.004125},{"b":86,"p":0.004256},{"b":84,"p":0.0041905},{"b":91,"p":0.0044473},{"b":96,"p":0.0043018},{"b":99,"p":0.004398},{"b":107,"p":0.0045057},{"b":111,"p":0.0044025},{"b":113,"p":0.004498},{"b":118,"p":0.0043981},{"b":124,"p":0.0045123},{"b":126,"p":0.004613},{"b":129,"p":0.0046897},{"b":139,"p":0.0049418},{"b":143,"p":0.004921},{"b":147,"p":0.004751},{"b":150,"p":0.004687},{"b":152,"p":0.0047605},{"b":155,"p":0.0048062},{"b":159,"p":0.0046197},{"b":162,"p":0.0047084},{"b":167,"p":0.0046593},{"b":177,"p":0.004729},{"b":184,"p":0.0046795},{"b":188,"p":0.0045818}]},
 "mark":{"type":"point","shape":"M-1,-1L1,1M-1,1L1,-1","size":64,"filled":false,"stroke":"#efa526","strokeWidth":1.6,"opacity":1},
 "encoding":{"y":{"field":"p","type":"quantitative","axis":null}}},
{"data":{"values":[{"b":91,"p":0.004438},{"b":93,"p":0.004448},{"b":165,"p":0.004694}]},
 "mark":{"type":"point","shape":"M-0.5,-1H0.5V1H-0.5Z","size":130,"filled":false,"stroke":"#6a2a90","strokeWidth":1,"opacity":1},
 "encoding":{"y":{"field":"p","type":"quantitative","axis":null}}},
{"data":{"name":"pivots"},
 "mark":{"type":"point","shape":"M-1,-0.3H1V0.3H-1Z","size":5329,"filled":true,"opacity":1,"fill":"#0a0f1e","fillOpacity":0.3,"strokeWidth":1.1},
 "encoding":{"y":{"field":"p","type":"quantitative","axis":null},
 "stroke":{"field":"k","type":"nominal","legend":null,"scale":{"domain":["hi","lo"],"range":["#121a2c","#15130f"]}}}},
{"encoding":{"y":{"field":"p","type":"quantitative","axis":null},
 "text":{"field":"t"},
 "color":{"field":"k","type":"nominal","legend":null,"scale":{"domain":["hi","lo","ob","ny","lvn","res"],"range":["#2a3a54","#37332a","#b040e0","#2a3040","#5858a0","#c04a50"]}},
 "size":{"field":"k","type":"ordinal","legend":null,"scale":{"type":"ordinal","domain":["hi","lo","ob","ny","lvn","res"],"range":[11.3,11.3,10,9.5,9,12]}}},
 "layer":[
 {"data":{"name":"pivots"},"mark":{"type":"text","align":"center","baseline":"middle","font":"DejaVu Sans Mono"}},
 {"data":{"values":[{"b":128,"p":0.0049667,"t":"NY CLOSE","k":"ny"},{"b":91,"p":0.0044516,"t":"OB","k":"ob"},{"b":93,"p":0.0044606,"t":"OB","k":"ob"},{"b":165,"p":0.0047064,"t":"OB","k":"ob"}]},"mark":{"type":"text","align":"center","baseline":"middle","font":"DejaVu Sans Mono"}},
 {"data":{"values":[{"b":-0.2,"p":0.0042853,"t":"LVN","k":"lvn"},{"b":-0.2,"p":0.003947,"t":"LVN","k":"lvn"}]},"mark":{"type":"text","align":"left","baseline":"middle","font":"DejaVu Sans Mono"}},
 {"data":{"values":[{"b":231.2,"p":0.0049265,"t":"0.004914","k":"res"}]},"mark":{"type":"text","align":"right","baseline":"middle","font":"Liberation Sans"}}
 ]},
{"data":{"values":[
 {"b":205.62,"b2":231.13,"a":0.004575,"z":0.0042631,"k":"outer"},
 {"b":205.62,"b2":231.13,"a":0.0045788,"z":0.0045514,"k":"hdr"},
 {"b":206.31,"b2":230.5,"a":0.0045262,"z":0.0045074,"k":"bad"},
 {"b":206.31,"b2":210.75,"a":0.0044799,"z":0.0044481,"k":"no"},
 {"b":211,"b2":215.48,"a":0.0044799,"z":0.0044481,"k":"no"},
 {"b":215.73,"b2":220.17,"a":0.0044799,"z":0.0044481,"k":"yes"},
 {"b":220.45,"b2":224.89,"a":0.0044799,"z":0.0044481,"k":"no"},
 {"b":225.18,"b2":229.62,"a":0.0044799,"z":0.0044481,"k":"yes"},
 {"b":206.57,"b2":230.18,"a":0.0044262,"z":0.0044218,"k":"track"},
 {"b":206.57,"b2":216.08,"a":0.0044262,"z":0.0044218,"k":"meter"},
 {"b":206.25,"b2":230.5,"a":0.0044076,"z":0.0043781,"k":"btn"},
 {"b":206.57,"b2":230.25,"a":0.004296,"z":0.0042729,"k":"rr"},
 {"b":231.6,"b2":240.9,"a":0.0045768,"z":0.004556,"k":"tag"}]},
 "mark":{"type":"rect","cornerRadius":6,"strokeWidth":1.5},
 "encoding":{"x2":{"field":"b2"},"y":{"field":"a","type":"quantitative","axis":null},"y2":{"field":"z"},
 "fill":{"field":"k","type":"nominal","legend":null,"scale":{"domain":["outer","hdr","bad","no","yes","track","meter","btn","rr","tag"],"range":["#03050d","#2a0b20","#250a18","#170712","#04181a","#121b3a","#e05558","#2a0a14","#03201a","#06301f"]}},
 "stroke":{"field":"k","type":"nominal","legend":null,"scale":{"domain":["outer","hdr","bad","no","yes","track","meter","btn","rr","tag"],"range":["#1f3358","#c82a62","#8a1f3a","#5a1a2a","#0f5a48","#121b3a","#e05558","#c02a3a","#19d080","#0a6a3e"]}}}},
{"data":{"values":[{"b":206.3,"b2":230.2,"p":0.004545},{"b":206.3,"b2":230.2,"p":0.0045016},{"b":206.3,"b2":230.2,"p":0.0044403},{"b":206.3,"b2":230.2,"p":0.0044149},{"b":206.3,"b2":230.2,"p":0.0043715},{"b":206.3,"b2":230.2,"p":0.0043035}]},
 "mark":{"type":"rule","stroke":"#1c2c48","strokeWidth":1,"strokeDash":[2,4]},
 "encoding":{"x2":{"field":"b2"},"y":{"field":"p","type":"quantitative","axis":null}}},
{"data":{"values":[{"b":209.84,"p":0.0043941}]},
 "mark":{"type":"circle","size":320,"color":"#ee3a20","opacity":1},
 "encoding":{"y":{"field":"p","type":"quantitative","axis":null}}},
{"encoding":{"y":{"field":"p","type":"quantitative","axis":null},
 "text":{"field":"t"},
 "color":{"field":"k","type":"nominal","legend":null,"scale":{"domain":["hdr","tri","tgt","bull","conf","skip","rr","sec","lab","pct","val","valr","xm","ck","sub","tag","minus"],"range":["#ff2d70","#ff2d70","#ffe01a","#1ef58e","#ff4444","#ff3a3a","#1ef58e","#2b4a7c","#5a6a80","#b03040","#aeb6c6","#c84040","#ef3a3a","#1ef58e","#445568","#1fd07a","#ffffff"]}},
 "size":{"field":"k","type":"ordinal","legend":null,"scale":{"type":"ordinal","domain":["hdr","tri","tgt","bull","conf","skip","rr","sec","lab","pct","val","valr","xm","ck","sub","tag","minus"],"range":[13.8,16,12.5,12.5,12,15,15,9.3,10.8,10,11.4,11.4,17,18,7.3,12.5,14]}}},
 "layer":[
 {"data":{"values":[{"b":206.82,"p":0.00454,"t":"► 1H TREND FILTER (HTF)","k":"sec"},{"b":206.82,"p":0.0044953,"t":"► CHECKLIST (need 4+)","k":"sec"},{"b":206.82,"p":0.0043657,"t":"► LEVELS","k":"sec"},{"b":206.63,"p":0.0044357,"t":"CONFIDENCE","k":"lab"},{"b":206.63,"p":0.0043544,"t":"ENTRY","k":"lab"},{"b":206.63,"p":0.0043388,"t":"STOP","k":"lab"},{"b":206.63,"p":0.0043232,"t":"TARGET","k":"lab"},{"b":232.14,"p":0.0045664,"t":"0.004567","k":"tag"}]},
  "mark":{"type":"text","align":"left","baseline":"middle","font":"DejaVu Sans Mono"}},
 {"data":{"values":[{"b":209.62,"p":0.0045658,"t":"SHORT\u00A0\u00A0—\u00A0\u00A0TARGET","k":"hdr"},{"b":206.82,"p":0.0045175,"t":"1H: ▲ BULL","k":"bull"},{"b":211.76,"p":0.0043941,"t":"HTF CONFLICT — SKIP","k":"skip"},{"b":208.77,"p":0.0042847,"t":"R:R\u00A0\u00A02.10:1\u00A0\u00A0✓ TAKE IT","k":"rr"}]},
  "mark":{"type":"text","align":"left","baseline":"middle","font":"DejaVu Sans Mono","fontWeight":"bold"}},
 {"data":{"values":[{"b":230.18,"p":0.0044357,"t":"40%","k":"pct"},{"b":230.18,"p":0.0043544,"t":"0.004567","k":"val"},{"b":230.18,"p":0.0043388,"t":"0.004636","k":"valr"},{"b":230.18,"p":0.0043232,"t":"0.004421","k":"valr"}]},
  "mark":{"type":"text","align":"right","baseline":"middle","font":"DejaVu Sans Mono"}},
 {"data":{"values":[{"b":230.09,"p":0.0045658,"t":"0.004421","k":"tgt"},{"b":229.87,"p":0.0045175,"t":"✕ CONFLICTS!","k":"conf"}]},
  "mark":{"type":"text","align":"right","baseline":"middle","font":"DejaVu Sans Mono","fontWeight":"bold"}},
 {"data":{"values":[{"b":208.52,"p":0.0044698,"t":"✕","k":"xm"},{"b":213.24,"p":0.0044698,"t":"✕","k":"xm"},{"b":217.93,"p":0.0044698,"t":"✓","k":"ck"},{"b":222.66,"p":0.0044698,"t":"✕","k":"xm"},{"b":227.38,"p":0.0044698,"t":"✓","k":"ck"},{"b":208.52,"p":0.0044559,"t":"1H TREND","k":"sub"},{"b":213.24,"p":0.0044559,"t":"LOCATION","k":"sub"},{"b":217.93,"p":0.0044559,"t":"NET FLOW","k":"sub"},{"b":222.66,"p":0.0044559,"t":"VOLUME","k":"sub"},{"b":227.38,"p":0.0044559,"t":"STRUCTURE","k":"sub"},{"b":207.29,"p":0.0045658,"t":"▼","k":"tri"},{"b":209.84,"p":0.0043941,"t":"–","k":"minus"}]},
  "mark":{"type":"text","align":"center","baseline":"middle","font":"DejaVu Sans Mono","fontWeight":"bold"}}
 ]}
],
"resolve":{"scale":{"color":"independent","size":"independent","fill":"independent","stroke":"independent"},"axis":{"y":"independent"}}
}
